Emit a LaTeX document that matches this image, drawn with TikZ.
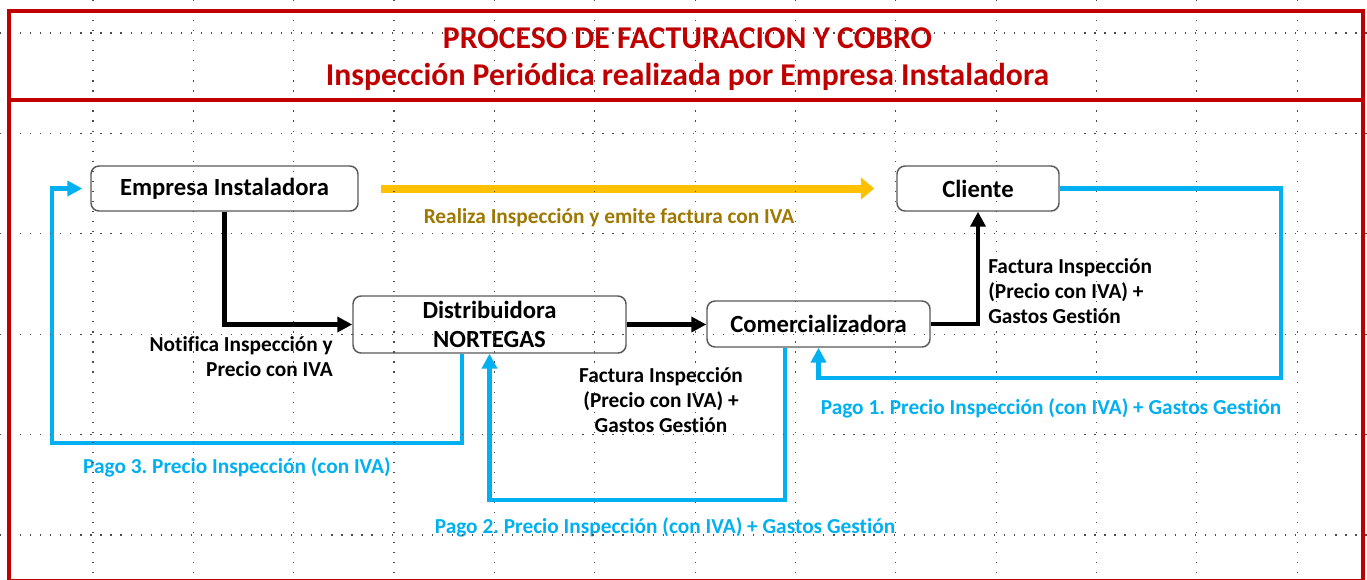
\documentclass[tikz,border=0pt]{standalone}
\usepackage{fontspec}
\setmainfont{Carlito}[Ligatures=NoCommon]
\usetikzlibrary{arrows.meta}
\definecolor{tred}{HTML}{C00000}
\definecolor{pblue}{HTML}{00B0F0}
\definecolor{gold}{HTML}{FFC000}
\definecolor{golddark}{HTML}{9E7800}
\definecolor{boxgray}{HTML}{595959}
\frenchspacing
\begin{document}
\begin{tikzpicture}[x=0.75pt,y=-0.75pt,
  entity/.style={draw=boxgray, line width=1.1pt, rounded corners=6pt, fill=white, inner sep=0pt, align=center, font=\fontsize{18.5pt}{21.75pt}\selectfont\bfseries},
  lbl/.style={inner sep=0pt, font=\fontsize{16pt}{18.75pt}\selectfont\bfseries},
  blk/.style={line width=3.4pt, -{Triangle[length=11.25pt,width=11.25pt]}},
  pay/.style={pblue, line width=3.4pt, -{Triangle[length=11.25pt,width=11.25pt]}},
  yel/.style={gold, line width=6pt, -{Triangle[length=10pt,width=16pt]}, shorten <=16.5pt, shorten >=16.5pt},
  gridline/.style={black!70, line width=0.9pt, dash pattern=on 0.9pt off 6.63pt},
]
\useasboundingbox (0,0) rectangle (1367,579);
\fill[white] (0,0) rectangle (1367,579);
\clip (0,0) rectangle (1367,579);

% title
\node[font=\fontsize{23.8pt}{27.75pt}\selectfont\bfseries, text=tred, align=center] (title) at (687.5,59.5) {PROCESO DE FACTURACION Y COBRO\\Inspección Periódica realizada por Empresa Instaladora};

% nodes
\node[entity, minimum width=200.25pt, minimum height=33.75pt] (emp) at (224.5,188.5) {Empresa Instaladora};
\node[entity, minimum width=121.5pt, minimum height=33.75pt] (cli) at (978,188.5) {Cliente};
\node[entity, minimum width=204.75pt, minimum height=42.75pt] (dist) at (489.5,324.5) {Distribuidora\\NORTEGAS};
\node[entity, minimum width=167.25pt, minimum height=34.5pt] (com) at (818.5,324) {Comercializadora};

% connectors
\draw[yel] (emp.east) -- (cli.west);
\draw[blk] (emp.south) -- (emp.south |- dist.west) -- (dist.west);
\draw[blk] (dist.east) -- (dist.east -| com.west);
\draw[blk] (com.east) -| (cli.south);

\coordinate (p1a) at (1281,378);
\draw[pay] (cli.east) -| (p1a) -| (com.south);
\coordinate (p2a) at (785,500);
\draw[pay] (com.south -| p2a) -- (p2a) -| (dist.south);
\coordinate (p3a) at (462,443);
\coordinate (p3b) at (52,443);
\draw[pay, shorten >=6pt] (dist.south -| p3a) -- (p3a) -- (p3b) |- (emp.west);

% labels
\node[lbl, text=golddark] (lr) at (609,218) {Realiza Inspección y emite factura con IVA};
\node[lbl, align=right, anchor=east] (ln) at (333,356.5) {Notifica Inspección y\\Precio con IVA};
\node[lbl, align=center] (lf1) at (661,400) {Factura Inspección\\(Precio con IVA) +\\Gastos Gestión};
\node[lbl, align=left, anchor=west] (lf2) at (988,291) {Factura Inspección\\(Precio con IVA) +\\Gastos Gestión};
\node[lbl, text=pblue] (l1) at (1051,408) {Pago 1. Precio Inspección (con IVA) + Gastos Gestión};
\node[lbl, text=pblue] (l2) at (665,527) {Pago 2. Precio Inspección (con IVA) + Gastos Gestión};
\node[lbl, text=pblue] (l3) at (237,467) {Pago 3. Precio Inspección (con IVA)};

% page grid
\foreach \i in {0,...,12} \draw[gridline] (93+100.35*\i,0) -- (93+100.35*\i,579);
\foreach \j in {0,...,5} \draw[gridline] (0,33+100.4*\j) -- (1367,33+100.4*\j);

% red frame
\draw[tred, line width=3pt] (9,11) rectangle (1363,580.5);
\draw[tred, line width=3pt] (9,99.5) -- (1363,99.5);
\end{tikzpicture}
\end{document}
